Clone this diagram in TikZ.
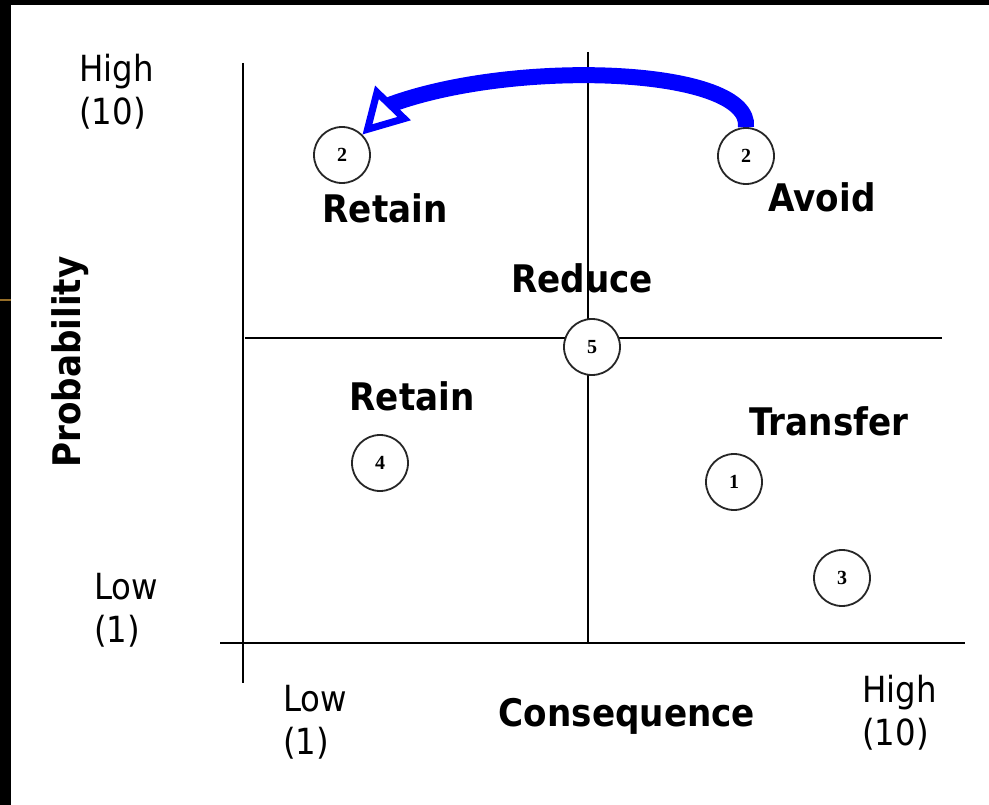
\documentclass[tikz,border=0pt]{standalone}
\usepackage{fontspec}
\usetikzlibrary{arrows.meta}
\newfontfamily\lblfont{DejaVu Sans Condensed}
\newfontfamily\numfont{Liberation Serif}
\definecolor{arrowblue}{RGB}{0,0,255}
\definecolor{glint}{RGB}{150,110,40}
\begin{document}
\begin{tikzpicture}[x=1pt,y=-1pt,
  axisline/.style={line width=2.2pt,black},
  numcirc/.style={circle,draw=black!85,line width=1.8pt,fill=white,minimum size=56pt,inner sep=0pt,
    font=\numfont\bfseries\fontsize{20}{20}\selectfont},
  tag/.style={inner sep=0pt,font=\lblfont\bfseries\fontsize{38}{44}\selectfont},
  endlabel/.style={inner sep=0pt,anchor=west,align=left,font=\lblfont\fontsize{36}{43}\selectfont},
  moveline/.style={line width=16pt,arrowblue,
    -{Triangle[open,length=44pt 0,width=48pt 0,line width=7pt 0]}}]
\useasboundingbox (0,0) rectangle (989,805);
\fill[black] (0,0) rectangle (989,805);
\fill[white] (11,5) rectangle (989,805);
\draw[glint,line width=2pt] (0,300) -- (11,300);
% axes
\coordinate (ytop) at (243,63);
\coordinate (ybot) at (243,683);
\coordinate (xl) at (220,643);
\coordinate (xr) at (965,643);
\coordinate (vtop) at (588,52);
\coordinate (vbot) at (588,643);
\coordinate (hl) at (245,338);
\coordinate (hr) at (942,338);
\draw[axisline] (ytop) -- (ybot);
\draw[axisline] (xl) -- (xr);
\draw[axisline] (vtop) -- (vbot);
\draw[axisline] (hl) -- (hr);
% circles
\node[numcirc] (c2l) at (342,155) {2};
\node[numcirc] (c2r) at (746,156) {2};
\node[numcirc] (c5) at (592,347) {5};
\node[numcirc] (c4) at (380,463) {4};
\node[numcirc] (c1) at (734,482) {1};
\node[numcirc] (c3) at (842,578) {3};
% arrow
\coordinate (tb) at (392,104);
\draw[moveline] (c2r.north) .. controls (752,68) and (520,58) .. (tb) -- (c2l.45);
% labels
\node[tag] (retainA) at (385,208) {Retain};
\node[tag] (avoid) at (822,197) {Avoid};
\node[tag] (reduce) at (582,278) {Reduce};
\node[tag] (retainB) at (412,396) {Retain};
\node[tag] (transfer) at (829,421) {Transfer};
\node[tag] (conseq) at (627,716) {Consequence};
\node[tag,rotate=90] (prob) at (70,362) {Probability};
\node[endlabel] (hiY) at (79,92) {High\\(10)};
\node[endlabel] (loY) at (94,610) {Low\\(1)};
\node[endlabel] (loX) at (283,722) {Low\\(1)};
\node[endlabel] (hiX) at (862,713) {High\\(10)};
\end{tikzpicture}
\end{document}
